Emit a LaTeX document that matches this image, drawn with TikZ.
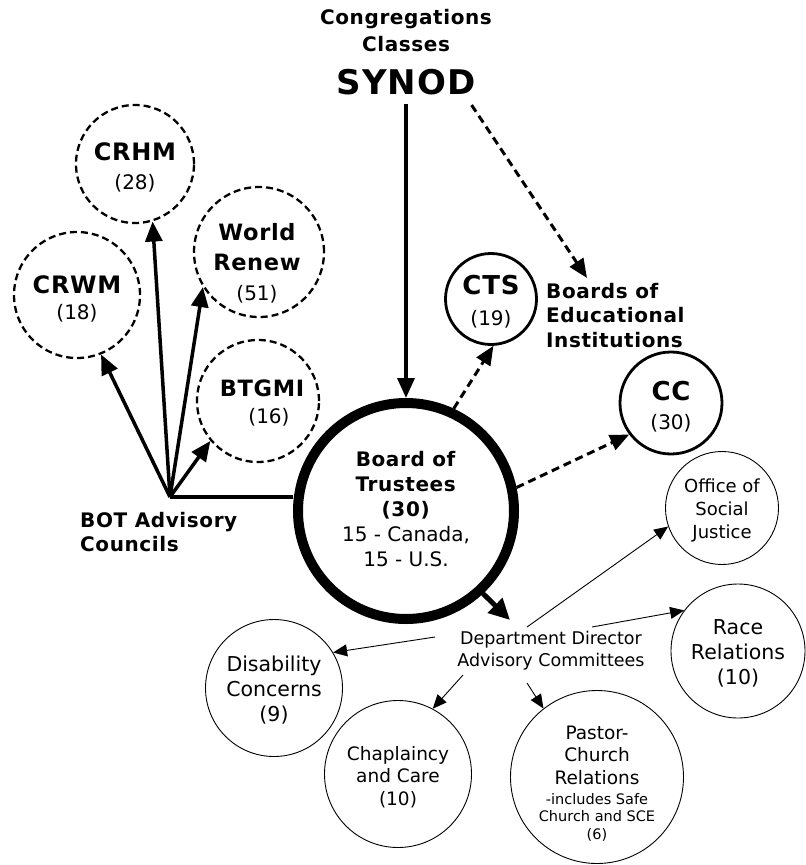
\documentclass[tikz,border=0pt]{standalone}
\usepackage{fontspec}
\setmainfont{DejaVu Sans}[BoldFeatures={LetterSpace=3}]
\usetikzlibrary{arrows.meta,calc}
\newcommand\myfs[2]{\fontsize{#1}{#2}\selectfont}
\begin{document}
\begin{tikzpicture}[x=1pt,y=-1pt,
  txt/.style={inner sep=0pt, align=center},
  dcirc/.style={circle, draw, line width=2.3pt, dash pattern=on 7pt off 4pt, minimum size=#1, inner sep=0pt},
  scirc/.style={circle, draw, line width=2.8pt, minimum size=#1, inner sep=0pt},
  tcirc/.style={circle, draw, line width=0.9pt, minimum size=#1, inner sep=0pt},
  bigarr/.style={line width=3.5pt, -{Triangle[length=20pt,width=17pt]}},
  darr/.style={line width=3pt, dash pattern=on 8pt off 5pt, -{Triangle[length=19pt,width=16pt]}},
  thinarr/.style={line width=0.9pt, -{Triangle[length=14pt,width=12pt]}},
  head/.style={font=\myfs{20}{27}\bfseries}
]
\useasboundingbox (0,0) rectangle (806,865);

% top
\node[txt, head] (congr) at (406,31) {Congregations\\Classes};
\node[txt, font=\myfs{34}{36}\bfseries] (synod) at (406,82) {SYNOD};

% board of trustees
\node[circle, draw, line width=10pt, minimum size=216pt, inner sep=0pt] (board) at (406,511) {};
\node[txt, font=\myfs{20}{25}] (boardt) at (406,509) {\textbf{Board of}\\\textbf{Trustees}\\\textbf{(30)}\\15 - Canada,\\15 - U.S.};

% dashed councils
\node[dcirc=126pt] (crwm) at (77,295) {};
\node[txt, font=\myfs{20}{26}] (crwmt) at (77,299) {\myfs{24}{26}\bfseries CRWM\\(18)};
\node[dcirc=118pt] (crhm) at (135,164) {};
\node[txt, font=\myfs{20}{29}] (crhmt) at (135,167) {\myfs{24}{29}\bfseries CRHM\\(28)};
\node[dcirc=130pt] (wr) at (259,252) {};
\node[txt, font=\myfs{22.5}{30}\bfseries] (wrt) at (257,263) {World\\Renew\\\myfs{20}{30}\mdseries(51)};
\node[dcirc=122pt] (btgmi) at (258,401) {};
\node[txt, font=\myfs{20}{27}] (btgmit) at (262,403) {\myfs{22.5}{27}\bfseries BTGMI\\\hspace*{14pt}(16)};

% educational institutions
\node[scirc=91pt] (cts) at (491,299) {};
\node[txt, font=\myfs{20}{31}] (ctst) at (491,302) {\myfs{26}{31}\bfseries CTS\\(19)};
\node[scirc=102pt] (cc) at (671,403) {};
\node[txt, font=\myfs{20}{29}] (cct) at (671,407) {\myfs{26}{29}\bfseries CC\\(30)};
\node[txt, anchor=north west, align=left, font=\myfs{20}{24.5}\bfseries] (boards) at (546,283) {Boards of\\Educational\\Institutions};

% BOT advisory
\coordinate (bot) at (170,497);
\node[txt, anchor=north west, align=left, font=\myfs{20}{24}\bfseries] (botadv) at (80,512) {BOT Advisory\\Councils};

% department director committees
\node[txt, font=\myfs{17.5}{22}] (dept) at (551,651) {Department Director\\Advisory Committees};
\node[tcirc=113pt] (osj) at (722,508) {};
\node[txt, font=\myfs{18}{23}] (osjt) at (722,510) {Office of\\Social\\Justice};
\node[tcirc=134pt] (race) at (738,651) {};
\node[txt, font=\myfs{20.5}{25}] (racet) at (738,653) {Race\\Relations\\(10)};
\node[tcirc=137pt] (dis) at (274,688) {};
\node[txt, font=\myfs{20.5}{25}] (dist) at (274,690) {Disability\\Concerns\\(9)};
\node[tcirc=147pt] (chap) at (398,774) {};
\node[txt, font=\myfs{18.5}{22.5}] (chapt) at (398,777) {Chaplaincy\\and Care\\(10)};
\node[tcirc=173pt] (pastor) at (597,777) {};
\node[txt, font=\myfs{18.5}{22.5}] (pastort) at (597,755) {Pastor-\\Church\\Relations};
\node[txt, font=\myfs{14.5}{17.5}] (pastors) at (597,817) {-includes Safe\\Church and SCE\\(6)};

% connectors
\draw[bigarr] ([yshift=-9pt]synod.south) -- (board.north);
\draw[darr] ([yshift=-10pt,xshift=-4pt]synod.south east) -- ($(boards.north west)+(41,-5)$);
\draw[line width=3.5pt] (bot) -- (bot -| board.west);
\draw[bigarr] (bot) -- (crwm.-68);
\draw[bigarr] (bot) -- (crhm.-73);
\draw[bigarr] (bot) -- (wr.212);
\draw[bigarr] (bot) -- (btgmi.220);
\draw[darr] (board.65) -- (cts.-87);
\draw[darr] (board.12.5) -- (cc.217);
\draw[line width=5pt, -{Triangle[length=21pt,width=20pt]}] (board.-47) -- ($(dept.center)+(-41,-31)$);
\draw[thinarr] ($(dept.center)+(-24,-24)$) -- (osj.199);
\draw[thinarr] ($(dept.center)+(41,-24)$) -- (race.143);
\draw[thinarr] ($(dept.center)+(-116,-14)$) -- (dis.31);
\draw[thinarr] ($(dept.center)+(-88,24)$) -- (chap.62);
\draw[thinarr] ($(dept.center)+(-24,32)$) -- (pastor.128);
\end{tikzpicture}
\end{document}
